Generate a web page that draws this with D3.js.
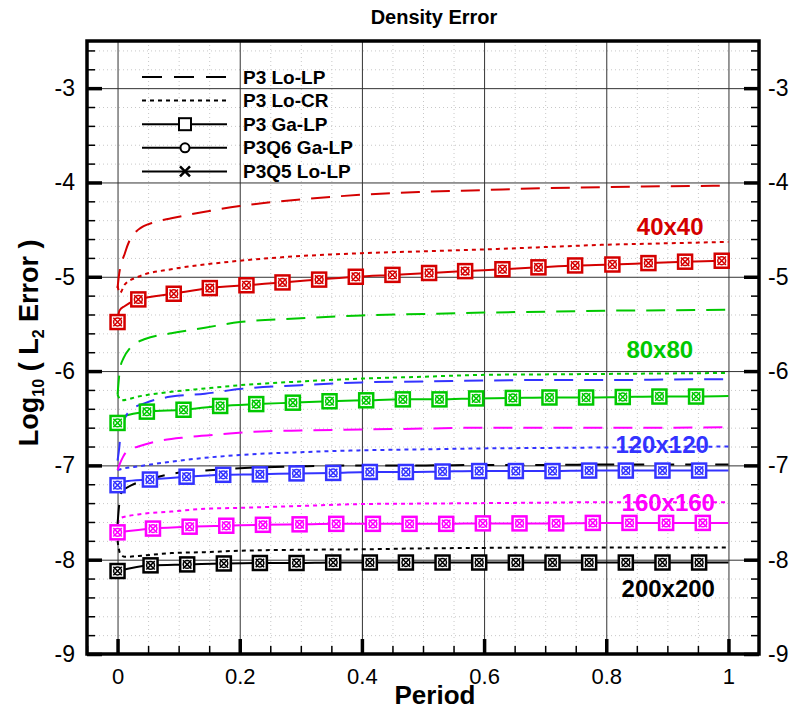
<!DOCTYPE html>
<meta charset="utf-8">
<style>
body { margin: 0; background: #fff; }
text { font-family: "Liberation Sans", Arial, Helvetica, sans-serif; }
.tick text { font-size: 23px; fill: #000; }
.xt .tick text { font-size: 22px; }
.grid line { stroke: #333; stroke-width: 1; }
.minorgrid line { stroke: #c8c8c8; stroke-width: 1; stroke-dasharray: 1,3; }
.line { fill: none; stroke-width: 2px; }
</style>
<body>
<script src="https://d3js.org/d3.v7.min.js"></script>
<script>
// grids and colours
var grids = ["40x40", "80x80", "120x120", "160x160", "200x200"];
var colors = ["#d40000", "#00c800", "#3333ff", "#ff00ff", "#000000"];
var labelX = [0.85, 0.833, 0.815, 0.825, 0.825];
var labelY = [-4.56, -5.86, -6.87, -7.485, -8.40];

var legendNames = ["P3 Lo-LP", "P3 Lo-CR", "P3 Ga-LP", "P3Q6 Ga-LP", "P3Q5 Lo-LP"];

var xMajor = [0, 0.2, 0.4, 0.6, 0.8, 1];
var yMajor = [-9, -8, -7, -6, -5, -4, -3];

// P3 Lo-LP (dashed)
var loLP40 = [[0,-5.12],[0.002,-5.0],[0.012,-4.75],[0.02,-4.61],[0.034,-4.5],[0.061,-4.42],[0.088,-4.38],[0.143,-4.31],[0.2,-4.25],[0.3,-4.18],[0.4,-4.13],[0.5,-4.1],[0.6,-4.08],[0.7,-4.06],[0.8,-4.05],[0.9,-4.04],[1,-4.035]];
var loLP80 = [[0,-6.25],[0.004,-5.98],[0.01,-5.86],[0.02,-5.76],[0.031,-5.7],[0.045,-5.66],[0.088,-5.6],[0.143,-5.54],[0.2,-5.48],[0.3,-5.44],[0.4,-5.41],[0.5,-5.395],[0.6,-5.38],[0.7,-5.37],[0.8,-5.36],[0.9,-5.355],[1,-5.35]];
var loLP120 = [[0,-6.95],[0.003,-6.8],[0.005,-6.66],[0.012,-6.5],[0.023,-6.41],[0.045,-6.34],[0.088,-6.27],[0.143,-6.24],[0.2,-6.19],[0.3,-6.15],[0.4,-6.12],[0.5,-6.11],[0.6,-6.1],[0.7,-6.095],[0.8,-6.095],[0.9,-6.09],[1,-6.085]];
var loLP160 = [[0,-7.05],[0.004,-6.98],[0.009,-6.91],[0.017,-6.84],[0.034,-6.8],[0.061,-6.75],[0.115,-6.7],[0.17,-6.67],[0.235,-6.64],[0.3,-6.63],[0.4,-6.62],[0.5,-6.61],[0.6,-6.6],[0.7,-6.6],[0.8,-6.6],[0.9,-6.6],[1,-6.595]];
var loLP200 = [[0,-7.62],[0.003,-7.4],[0.007,-7.28],[0.023,-7.21],[0.045,-7.16],[0.088,-7.09],[0.143,-7.055],[0.2,-7.03],[0.235,-7.02],[0.3,-7.01],[0.4,-7.0],[0.5,-7.0],[0.6,-6.995],[0.7,-6.995],[0.8,-6.99],[0.9,-6.99],[1,-6.99]];

// P3 Lo-CR (dotted)
var loCR40 = [[0,-5.1],[0.004,-5.17],[0.012,-5.08],[0.034,-5.0],[0.088,-4.92],[0.143,-4.87],[0.2,-4.83],[0.3,-4.78],[0.4,-4.75],[0.5,-4.73],[0.6,-4.71],[0.7,-4.685],[0.8,-4.66],[0.9,-4.645],[1,-4.63]];
var loCR80 = [[0,-6.25],[0.006,-6.31],[0.034,-6.27],[0.088,-6.22],[0.143,-6.185],[0.2,-6.15],[0.3,-6.11],[0.4,-6.08],[0.5,-6.06],[0.6,-6.04],[0.7,-6.035],[0.8,-6.03],[0.9,-6.025],[1,-6.02]];
var loCR120 = [[0,-7.05],[0.012,-7.03],[0.034,-7.01],[0.088,-6.96],[0.143,-6.92],[0.2,-6.89],[0.3,-6.86],[0.4,-6.84],[0.5,-6.83],[0.6,-6.82],[0.7,-6.815],[0.8,-6.81],[0.9,-6.805],[1,-6.8]];
var loCR160 = [[0,-7.62],[0.004,-7.56],[0.034,-7.52],[0.088,-7.49],[0.143,-7.46],[0.2,-7.45],[0.3,-7.43],[0.4,-7.41],[0.5,-7.405],[0.6,-7.4],[0.7,-7.395],[0.8,-7.39],[0.9,-7.39],[1,-7.39]];
var loCR200 = [[0,-7.8],[0.004,-7.93],[0.012,-7.97],[0.034,-7.96],[0.088,-7.93],[0.143,-7.92],[0.2,-7.905],[0.3,-7.895],[0.4,-7.89],[0.5,-7.88],[0.6,-7.875],[0.7,-7.87],[0.8,-7.87],[0.9,-7.87],[1,-7.87]];

// Ga-LP / P3Q6 Ga-LP / P3Q5 Lo-LP (solid, they lie on top of each other)
var ga40 = [[0,-5.48],[0.003,-5.36],[0.012,-5.31],[0.034,-5.24],[0.092,-5.18],[0.151,-5.12],[0.211,-5.09],[0.27,-5.06],[0.33,-5.03],[0.39,-5.0],[0.45,-4.98],[0.51,-4.96],[0.569,-4.94],[0.63,-4.92],[0.689,-4.9],[0.749,-4.88],[0.81,-4.87],[0.869,-4.855],[0.929,-4.84],[0.989,-4.83],[1,-4.828]];
var ga80 = [[0,-6.55],[0.01,-6.48],[0.048,-6.43],[0.108,-6.41],[0.168,-6.37],[0.227,-6.35],[0.287,-6.335],[0.347,-6.32],[0.407,-6.31],[0.467,-6.3],[0.527,-6.3],[0.587,-6.29],[0.647,-6.285],[0.707,-6.28],[0.767,-6.28],[0.827,-6.275],[0.887,-6.27],[0.947,-6.27],[1,-6.265]];
var ga120 = [[0,-7.21],[0.012,-7.17],[0.053,-7.15],[0.113,-7.12],[0.173,-7.1],[0.233,-7.095],[0.293,-7.085],[0.353,-7.08],[0.413,-7.07],[0.472,-7.07],[0.532,-7.065],[0.592,-7.06],[0.652,-7.06],[0.712,-7.06],[0.772,-7.055],[0.832,-7.055],[0.892,-7.055],[0.952,-7.055],[1,-7.055]];
var ga160 = [[0,-7.71],[0.058,-7.67],[0.118,-7.65],[0.178,-7.64],[0.238,-7.63],[0.298,-7.625],[0.358,-7.62],[0.418,-7.62],[0.478,-7.62],[0.538,-7.62],[0.598,-7.615],[0.658,-7.615],[0.718,-7.615],[0.778,-7.61],[0.838,-7.61],[0.898,-7.61],[0.958,-7.61],[1,-7.61]];
var ga200 = [[0,-8.12],[0.054,-8.06],[0.114,-8.05],[0.174,-8.04],[0.233,-8.035],[0.293,-8.035],[0.353,-8.03],[0.413,-8.03],[0.472,-8.03],[0.532,-8.03],[0.592,-8.03],[0.652,-8.03],[0.712,-8.03],[0.772,-8.03],[0.832,-8.03],[0.892,-8.03],[0.952,-8.03],[1,-8.03]];

// symbol positions on the solid curves
var mark40 = [[0,-5.48],[0.034,-5.24],[0.092,-5.18],[0.151,-5.12],[0.211,-5.09],[0.27,-5.06],[0.33,-5.03],[0.39,-5.0],[0.45,-4.98],[0.51,-4.96],[0.569,-4.94],[0.63,-4.92],[0.689,-4.9],[0.749,-4.88],[0.81,-4.87],[0.869,-4.855],[0.929,-4.84],[0.989,-4.83]];
var mark80 = [[0,-6.55],[0.048,-6.43],[0.108,-6.41],[0.168,-6.37],[0.227,-6.35],[0.287,-6.335],[0.347,-6.32],[0.407,-6.31],[0.467,-6.3],[0.527,-6.3],[0.587,-6.29],[0.647,-6.285],[0.707,-6.28],[0.767,-6.28],[0.827,-6.275],[0.887,-6.27],[0.947,-6.27]];
var mark120 = [[0,-7.21],[0.053,-7.15],[0.113,-7.12],[0.173,-7.1],[0.233,-7.095],[0.293,-7.085],[0.353,-7.08],[0.413,-7.07],[0.472,-7.07],[0.532,-7.065],[0.592,-7.06],[0.652,-7.06],[0.712,-7.06],[0.772,-7.055],[0.832,-7.055],[0.892,-7.055],[0.952,-7.055]];
var mark160 = [[0,-7.71],[0.058,-7.67],[0.118,-7.65],[0.178,-7.64],[0.238,-7.63],[0.298,-7.625],[0.358,-7.62],[0.418,-7.62],[0.478,-7.62],[0.538,-7.62],[0.598,-7.615],[0.658,-7.615],[0.718,-7.615],[0.778,-7.61],[0.838,-7.61],[0.898,-7.61],[0.958,-7.61]];
var mark200 = [[0,-8.12],[0.054,-8.06],[0.114,-8.05],[0.174,-8.04],[0.233,-8.035],[0.293,-8.035],[0.353,-8.03],[0.413,-8.03],[0.472,-8.03],[0.532,-8.03],[0.592,-8.03],[0.652,-8.03],[0.712,-8.03],[0.772,-8.03],[0.832,-8.03],[0.892,-8.03],[0.952,-8.03]];

var loLP = [loLP40, loLP80, loLP120, loLP160, loLP200];
var loCR = [loCR40, loCR80, loCR120, loCR160, loCR200];
var gaLP = [ga40, ga80, ga120, ga160, ga200];
var marks = [mark40, mark80, mark120, mark160, mark200];

// dimensions
var margin = {top: 41, right: 33, bottom: 60, left: 87},
    width = 792 - margin.left - margin.right,
    height = 714 - margin.top - margin.bottom;

var x = d3.scaleLinear().domain([-0.05, 1.05]).range([0, width]);
var y = d3.scaleLinear().domain([-9, -2.5]).range([height, 0]);

var xMinor = d3.range(-1, 21).map(function(i) { return i * 0.05; }).filter(function(v) { return xMajor.indexOf(+v.toFixed(2)) < 0; });
var yMinor = d3.range(-45, -12).map(function(i) { return i * 0.2; }).filter(function(v) { return Math.abs(v - Math.round(v)) > 0.01; });

// plain hyphen labels like the original
var fmt = function(d) { return String(d); };

var svg = d3.select("body").append("svg")
    .attr("width", 792)
    .attr("height", 714);

svg.append("rect").attr("width", 792).attr("height", 714).attr("fill", "#fff");

var g = svg.append("g")
    .attr("transform", "translate(" + margin.left + "," + margin.top + ")");

// minor dotted grid
g.append("g").attr("class", "minorgrid")
    .call(d3.axisBottom(x).tickValues(xMinor).tickSize(height).tickFormat(""))
    .call(function(s) { s.select(".domain").remove(); });
g.append("g").attr("class", "minorgrid")
    .call(d3.axisRight(y).tickValues(yMinor).tickSize(width).tickFormat(""))
    .call(function(s) { s.select(".domain").remove(); });

// major grid
g.append("g").attr("class", "grid")
    .call(d3.axisBottom(x).tickValues(xMajor).tickSize(height).tickFormat(""))
    .call(function(s) { s.select(".domain").remove(); });
g.append("g").attr("class", "grid")
    .call(d3.axisRight(y).tickValues(yMajor).tickSize(width).tickFormat(""))
    .call(function(s) { s.select(".domain").remove(); });

// curve labels
g.selectAll(".gridlabel")
    .data(grids)
  .enter().append("text")
    .attr("class", "gridlabel")
    .attr("x", function(d, i) { return x(labelX[i]); })
    .attr("y", function(d, i) { return y(labelY[i]); })
    .style("font-size", "24px")
    .style("font-weight", "bold")
    .style("fill", function(d, i) { return colors[i]; })
    .text(function(d) { return d; });

var line = d3.line()
    .x(function(d) { return x(d[0]); })
    .y(function(d) { return y(d[1]); })
    .curve(d3.curveMonotoneX);

// lines
for (var i = 0; i < grids.length; i++) {
  g.append("path").datum(loLP[i]).attr("class", "line")
      .style("stroke", colors[i]).style("stroke-dasharray", "19,11")
      .attr("d", line);
  g.append("path").datum(loCR[i]).attr("class", "line")
      .style("stroke", colors[i]).style("stroke-dasharray", "4,4")
      .attr("d", line);
  g.append("path").datum(gaLP[i]).attr("class", "line")
      .style("stroke", colors[i])
      .attr("d", line);
}

// symbols: square (Ga-LP), circle (P3Q6 Ga-LP), cross (P3Q5 Lo-LP)
function drawSymbols(sel, color, s) {
  sel.append("rect")
      .attr("x", -s / 2).attr("y", -s / 2).attr("width", s).attr("height", s)
      .attr("fill", "#fff").attr("stroke", color).attr("stroke-width", 2.5);
  sel.append("circle")
      .attr("r", s * 0.28)
      .attr("fill", "none").attr("stroke", color).attr("stroke-width", 1.5);
  sel.append("path")
      .attr("d", "M" + (-s * 0.3) + "," + (-s * 0.3) + "L" + (s * 0.3) + "," + (s * 0.3) +
                 "M" + (-s * 0.3) + "," + (s * 0.3) + "L" + (s * 0.3) + "," + (-s * 0.3))
      .attr("stroke", color).attr("stroke-width", 1.5);
}

for (var i = 0; i < grids.length; i++) {
  var sym = g.selectAll(".sym" + i)
      .data(marks[i])
    .enter().append("g")
      .attr("class", "sym" + i)
      .attr("transform", function(d) { return "translate(" + x(d[0]) + "," + y(d[1]) + ")"; });
  drawSymbols(sym, colors[i], 14);
}

// axes ticks (inward)
function noDomain(s) { s.select(".domain").remove(); }
g.append("g")
    .call(d3.axisLeft(y).tickValues(yMajor).tickSize(-15).tickPadding(12).tickFormat(fmt))
    .call(noDomain)
    .selectAll("line").attr("stroke-width", 3.5);
g.append("g")
    .call(d3.axisLeft(y).tickValues(yMinor).tickSize(-8).tickFormat(""))
    .call(noDomain)
    .selectAll("line").attr("stroke-width", 1.5);
g.append("g")
    .attr("transform", "translate(" + width + ",0)")
    .call(d3.axisRight(y).tickValues(yMajor).tickSize(-15).tickPadding(9).tickFormat(fmt))
    .call(noDomain)
    .selectAll("line").attr("stroke-width", 3.5);
g.append("g")
    .attr("transform", "translate(" + width + ",0)")
    .call(d3.axisRight(y).tickValues(yMinor).tickSize(-8).tickFormat(""))
    .call(noDomain)
    .selectAll("line").attr("stroke-width", 1.5);
g.append("g").attr("class", "xt")
    .attr("transform", "translate(0," + height + ")")
    .call(d3.axisBottom(x).tickValues(xMajor).tickSize(-15).tickPadding(14).tickFormat(fmt))
    .call(noDomain)
    .selectAll("line").attr("stroke-width", 3.5);
g.append("g")
    .attr("transform", "translate(0," + height + ")")
    .call(d3.axisBottom(x).tickValues(xMinor).tickSize(-8).tickFormat(""))
    .call(noDomain)
    .selectAll("line").attr("stroke-width", 1.5);

// frame
g.append("rect")
    .attr("width", width).attr("height", height)
    .attr("fill", "none").attr("stroke", "#000").attr("stroke-width", 3.5);

// legend
var legend = g.selectAll(".legend")
    .data(legendNames)
  .enter().append("g")
    .attr("class", "legend")
    .attr("transform", function(d, i) { return "translate(0," + (36 + i * 23.6) + ")"; });

legend.append("line")
    .attr("x1", 55).attr("x2", 140)
    .attr("stroke", "#000").attr("stroke-width", 2)
    .attr("stroke-dasharray", function(d, i) { return i == 0 ? "20,12" : (i == 1 ? "4,4" : null); });

legend.filter(function(d, i) { return i == 2; }).append("rect")
    .attr("x", -6).attr("y", -6).attr("width", 12).attr("height", 12)
    .attr("transform", "translate(98,0)")
    .attr("fill", "#fff").attr("stroke", "#000").attr("stroke-width", 2);
legend.filter(function(d, i) { return i == 3; }).append("circle")
    .attr("cx", 98).attr("r", 4.5)
    .attr("fill", "#fff").attr("stroke", "#000").attr("stroke-width", 2);
legend.filter(function(d, i) { return i == 4; }).append("path")
    .attr("d", "M93,-5L103,5M93,5L103,-5")
    .attr("stroke", "#000").attr("stroke-width", 2.5);

legend.append("text")
    .attr("x", 156)
    .attr("dy", "0.35em")
    .style("font-size", "19px")
    .style("font-weight", "bold")
    .text(function(d) { return d; });

// title and axis labels
svg.append("text")
    .attr("x", 434).attr("y", 24)
    .attr("text-anchor", "middle")
    .style("font-size", "20px").style("font-weight", "bold")
    .text("Density Error");

svg.append("text")
    .attr("x", 435).attr("y", 704)
    .attr("text-anchor", "middle")
    .style("font-size", "26px").style("font-weight", "bold")
    .text("Period");

var ylab = svg.append("text")
    .attr("transform", "translate(38," + (margin.top + y(-5.7)) + ") rotate(-90)")
    .attr("text-anchor", "middle")
    .style("font-size", "27px").style("font-weight", "bold");
ylab.append("tspan").text("Log");
ylab.append("tspan").attr("dy", 6).style("font-size", "16px").text("10");
ylab.append("tspan").attr("dy", -6).text(" ( L");
ylab.append("tspan").attr("dy", 6).style("font-size", "16px").text("2");
ylab.append("tspan").attr("dy", -6).text(" Error )");
</script>
</body>
